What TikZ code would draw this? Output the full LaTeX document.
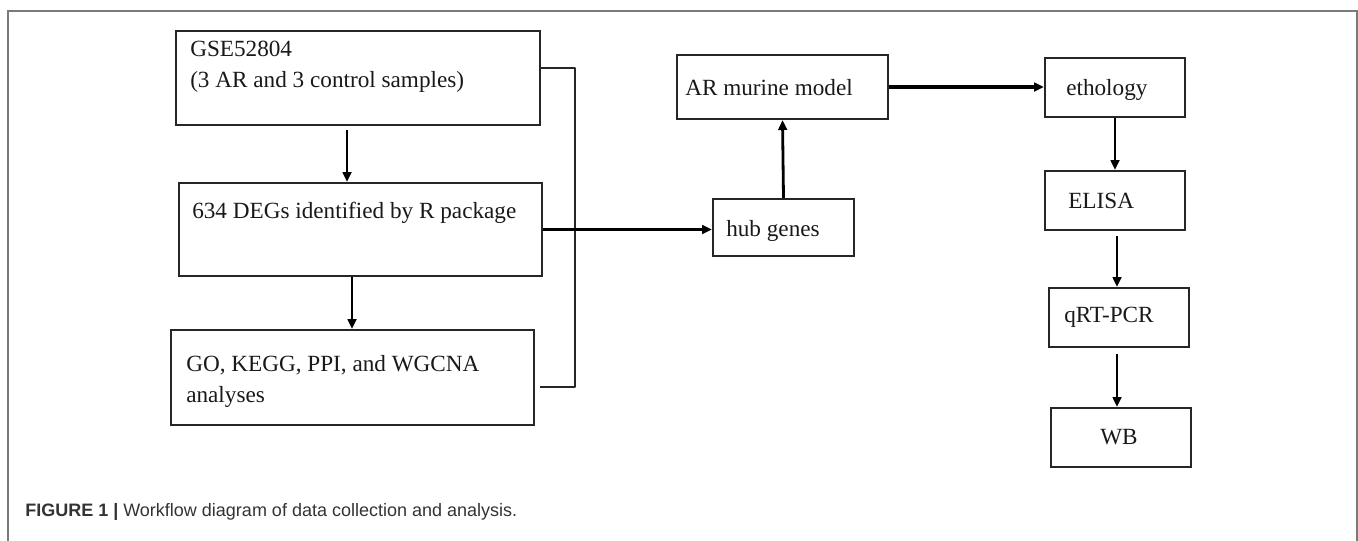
\documentclass[tikz,border=0pt]{standalone}
\usepackage{fontspec}
\setmainfont{Liberation Serif}
\newfontfamily\capfont{Liberation Sans}
\usetikzlibrary{fit,arrows.meta}
\definecolor{boxline}{HTML}{262626}
\definecolor{frameline}{HTML}{7A7A7A}
\definecolor{captext}{HTML}{333333}
\begin{document}
\begin{tikzpicture}[x=0.75pt,y=-0.75pt,
  box/.style={draw=boxline,line width=1.5pt,inner sep=0pt},
  txt/.style={font=\fontsize{17.4}{23}\selectfont,align=left,inner sep=0pt,anchor=west,text=black!90},
  arr/.style={draw=black,line width=2.1pt,-{Triangle[length=7.5pt,width=6.5pt]}},
  bracket/.style={draw=boxline,line width=1.4pt,line join=round}]
\useasboundingbox (0,0) rectangle (1358,540);
% outer frame
\draw[frameline,line width=1.4pt] (8,545) -- (8,11) -- (1357,11) -- (1357,545);
% left column
\node[box,fit={(176,31) (540,125)}] (gse) {};
\node[txt] (gset) at (190,66.5) {GSE52804\\(3 AR and 3 control samples)};
\node[box,fit={(179,183) (542,276)}] (degs) {};
\node[txt] (degst) at (192,213) {634 DEGs identified by R package};
\node[box,fit={(171,330) (534,425)}] (go) {};
\node[txt] (got) at (186,381.5) {GO, KEGG, PPI, and WGCNA\\analyses};
% middle
\node[box,fit={(677,55) (888,119)}] (ar) {};
\node[txt] (art) at (685,88) {AR murine model};
\node[box,fit={(713,199) (854,256)}] (hub) {};
\node[txt] (hubt) at (726,231) {hub genes};
% right column
\node[box,fit={(1045,58) (1185,117)}] (eth) {};
\node[txt] (etht) at (1066,90) {ethology};
\node[box,fit={(1045,171) (1185,230)}] (elisa) {};
\node[txt] (elisat) at (1068,201) {ELISA};
\node[box,fit={(1049,288) (1189,347)}] (qrt) {};
\node[txt] (qrtt) at (1064,317) {qRT-PCR};
\node[box,fit={(1051,408) (1191,467)}] (wb) {};
\node[txt] (wbt) at (1100,437) {WB};
% connectors
\coordinate (xa) at (347,0);
\coordinate (xb) at (352,0);
\coordinate (xc) at (1117,0);
\draw[arr,shorten <=3pt] (gse.south -| xa) -- (degs.north -| xa);
\draw[arr] (degs.south -| xb) -- (go.north -| xb);
\coordinate (bt) at (540,68);
\coordinate (bb) at (540,387);
\draw[bracket] (bt) -- (575,68) -- (575,387) -- (bb);
\draw[arr,line width=2.4pt] (degs.east) -- (degs.east -| hub.west);
\draw[arr] (hub.north) -- (ar.south);
\draw[arr,line width=2.4pt] (ar.east) -- (ar.east -| eth.west);
\draw[arr] (eth.south) -- (elisa.north);
\draw[arr,shorten <=4pt] (elisa.south -| xc) -- (qrt.north -| xc);
\draw[arr,shorten <=4.5pt] (qrt.south -| xc) -- (wb.north -| xc);
% caption
\node[anchor=west,inner sep=0pt,text=captext,font=\capfont\fontsize{13.5}{15}\selectfont] (cap) at (25,512)
  {\textbf{FIGURE 1} \textbf{|} Workflow diagram of data collection and analysis.};
\end{tikzpicture}
\end{document}
